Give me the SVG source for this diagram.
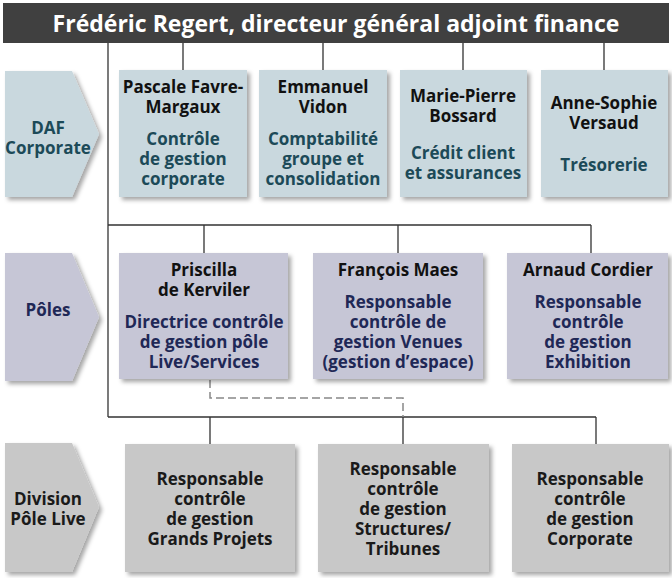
<svg xmlns="http://www.w3.org/2000/svg" width="672" height="578" viewBox="0 0 672 578">
<defs>
<filter id="sh" x="-10%" y="-10%" width="130%" height="130%">
<feDropShadow dx="3" dy="3" stdDeviation="2" flood-color="#000" flood-opacity="0.35"/>
</filter>
</defs>
<style>
text{font-family:"Open Sans",Lato,"Liberation Sans",sans-serif;font-weight:bold;font-size:17px;text-anchor:middle}
.hdr{fill:#fff;font-size:23px}
.nm{fill:#111}
.t1{fill:#1c4a58}
.t2{fill:#1f2856}
.t3{fill:#1a1a1a}
.b1{fill:#c9d8de}
.b2{fill:#c6c6d6}
.b3{fill:#c8c8c8}
.ln{fill:none;stroke:#333;stroke-width:1.3}
.dl{fill:none;stroke:#888;stroke-width:1.5;stroke-dasharray:8 4}
</style>
<rect x="0" y="0" width="672" height="578" fill="#fff"/>
<g id="connectors">
<path class="ln" d="M108 43V417"/>
<path class="ln" d="M183 43V70M323 43V70M463 43V70M604 43V70"/>
<path class="ln" d="M108 225H591M204 225V253M398 225V253M591 225V253"/>
<path class="ln" d="M108 417H596M210 417V444M403 417V444M596 417V444"/>
<path class="dl" d="M210 380V398H403V417"/>
</g>
<g id="header">
<rect x="3" y="3" width="666" height="40" fill="#404040"/>
<text class="hdr" x="336" y="32">Frédéric Regert, directeur général adjoint finance</text>
</g>
<g id="chev-daf">
<path class="b1" filter="url(#sh)" d="M5 71H72L99 134L72 197H5Z"/>
<text class="t1" x="48" y="134">DAF</text>
<text class="t1" x="48" y="154">Corporate</text>
</g>
<g id="chev-poles">
<path class="b2" filter="url(#sh)" d="M5 253H72L99 317L72 381H5Z"/>
<text class="t2" x="48" y="316">Pôles</text>
</g>
<g id="chev-division">
<path class="b3" filter="url(#sh)" d="M5 443H72L99 507L72 572H5Z"/>
<text class="t3" x="48" y="505">Division</text>
<text class="t3" x="48" y="525">Pôle Live</text>
</g>
<g id="favre-margaux">
<rect class="b1" filter="url(#sh)" x="119" y="70" width="128" height="127"/>
<text class="nm" x="183" y="93">Pascale Favre-</text>
<text class="nm" x="183" y="113">Margaux</text>
<text class="t1" x="183" y="145">Contrôle</text>
<text class="t1" x="183" y="165">de gestion</text>
<text class="t1" x="183" y="185">corporate</text>
</g>
<g id="vidon">
<rect class="b1" filter="url(#sh)" x="259" y="70" width="128" height="127"/>
<text class="nm" x="323" y="93">Emmanuel</text>
<text class="nm" x="323" y="113">Vidon</text>
<text class="t1" x="323" y="145">Comptabilité</text>
<text class="t1" x="323" y="165">groupe et</text>
<text class="t1" x="323" y="185">consolidation</text>
</g>
<g id="bossard">
<rect class="b1" filter="url(#sh)" x="400" y="70" width="127" height="127"/>
<text class="nm" x="463" y="102">Marie-Pierre</text>
<text class="nm" x="463" y="122">Bossard</text>
<text class="t1" x="463" y="159">Crédit client</text>
<text class="t1" x="463" y="179">et assurances</text>
</g>
<g id="versaud">
<rect class="b1" filter="url(#sh)" x="541" y="70" width="127" height="127"/>
<text class="nm" x="604" y="109">Anne-Sophie</text>
<text class="nm" x="604" y="129">Versaud</text>
<text class="t1" x="604" y="171">Trésorerie</text>
</g>
<g id="kerviler">
<rect class="b2" filter="url(#sh)" x="119" y="253" width="169" height="126"/>
<text class="nm" x="204" y="276">Priscilla</text>
<text class="nm" x="204" y="296">de Kerviler</text>
<text class="t2" x="204" y="328">Directrice contrôle</text>
<text class="t2" x="204" y="348">de gestion pôle</text>
<text class="t2" x="204" y="368">Live/Services</text>
</g>
<g id="maes">
<rect class="b2" filter="url(#sh)" x="313" y="253" width="170" height="126"/>
<text class="nm" x="398" y="276">François Maes</text>
<text class="t2" x="398" y="308">Responsable</text>
<text class="t2" x="398" y="328">contrôle de</text>
<text class="t2" x="398" y="348">gestion Venues</text>
<text class="t2" x="398" y="368">(gestion d’espace)</text>
</g>
<g id="cordier">
<rect class="b2" filter="url(#sh)" x="507" y="253" width="161" height="126"/>
<text class="nm" x="588" y="276">Arnaud Cordier</text>
<text class="t2" x="588" y="308">Responsable</text>
<text class="t2" x="588" y="328">contrôle</text>
<text class="t2" x="588" y="348">de gestion</text>
<text class="t2" x="588" y="368">Exhibition</text>
</g>
<g id="grands-projets">
<rect class="b3" filter="url(#sh)" x="125" y="444" width="170" height="128"/>
<text class="t3" x="210" y="485">Responsable</text>
<text class="t3" x="210" y="505">contrôle</text>
<text class="t3" x="210" y="525">de gestion</text>
<text class="t3" x="210" y="545">Grands Projets</text>
</g>
<g id="structures">
<rect class="b3" filter="url(#sh)" x="318" y="444" width="171" height="128"/>
<text class="t3" x="403" y="475">Responsable</text>
<text class="t3" x="403" y="495">contrôle</text>
<text class="t3" x="403" y="515">de gestion</text>
<text class="t3" x="403" y="535">Structures/</text>
<text class="t3" x="403" y="555">Tribunes</text>
</g>
<g id="corporate">
<rect class="b3" filter="url(#sh)" x="512" y="444" width="157" height="128"/>
<text class="t3" x="590" y="485">Responsable</text>
<text class="t3" x="590" y="505">contrôle</text>
<text class="t3" x="590" y="525">de gestion</text>
<text class="t3" x="590" y="545">Corporate</text>
</g>
</svg>
